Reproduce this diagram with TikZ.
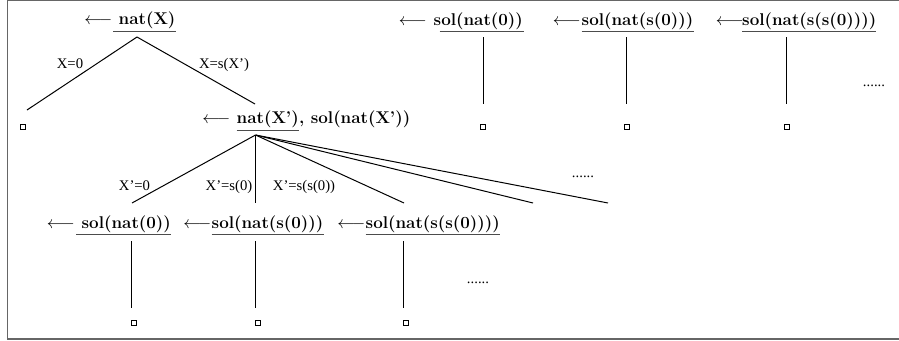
\documentclass[tikz,border=0pt]{standalone}
\usepackage{fontspec}
\newfontfamily\labfont{Liberation Serif}
\begin{document}
\begin{tikzpicture}[x=1pt,y=-1pt,
  term/.style={font=\bfseries\fontsize{17}{20}\selectfont, inner sep=0pt, text height=12pt, text depth=6.5pt, anchor=base west},
  arr/.style={font=\fontsize{16.5}{20}\selectfont, inner sep=0pt, anchor=base east},
  lab/.style={font=\labfont\fontsize{14.7}{17}\selectfont, inner sep=0pt, anchor=base},
  ul/.style={line width=1.3pt, draw=black!70},
  branch/.style={line width=1pt},
  sq/.style={draw, line width=0.9pt, minimum size=5.5pt, inner sep=0pt},
  frame/.style={draw=black!60, line width=1.2pt}]
\useasboundingbox (0,0) rectangle (899,340);
\draw[frame] (900,0.6) -- (7.5,0.6) -- (7.5,339) -- (900,339);

% top-left tree
\node[term] (tA) at (118.5,24.5) {nat(X)};
\node[arr] (aA) at (112.5,24.5) {$\longleftarrow$};
\draw[ul] ([xshift=-5.5pt]tA.south west) -- (tA.south east);
\coordinate (pA) at (137,37);
\coordinate (lA) at (27,110);
\coordinate (rA) at (255,104);
\draw[branch] (pA) -- (lA);
\draw[branch] (pA) -- (rA);
\node[sq] (bA) at (22.7,127) {};
\node[lab] (xA1) at (70,68) {X=0};
\node[lab] (xA2) at (224,68) {X=s(X’)};

% second goal
\node[arr] (aB) at (230.5,123.5) {$\longleftarrow$};
\node[term] (tB) at (236.5,123.5) {nat(X’)};
\node[term] (tB2) at (tB.base east) {, sol(nat(X’))};
\draw[ul] (tB.south west) -- (tB.south east);

% fan
\coordinate (pB) at (255.5,135);
\coordinate (f1) at (132,203);
\coordinate (f2) at (255.5,203);
\coordinate (f3) at (404,203);
\coordinate (f4) at (533,203);
\coordinate (f5) at (608,203);
\foreach \f in {f1,f2,f3,f4,f5} \draw[branch] (pB) -- (\f);
\node[lab] (xB1) at (134.5,190.5) {X’=0};
\node[lab] (xB2) at (229,190.5) {X’=s(0)};
\node[lab] (xB3) at (304,190.5) {X’=s(s(0))};
\node[lab] (dB) at (583,177) {......};

% bottom row
\node[arr] (aC1) at (75,228) {$\longleftarrow$};
\node[term] (tC1) at (81.5,228) {sol(nat(0))};
\draw[ul] ([xshift=-5.5pt]tC1.south west) -- (tC1.south east);
\node[arr] (aC2) at (211.5,228) {$\longleftarrow$};
\node[term] (tC2) at (211.5,228) {sol(nat(s(0)))};
\draw[ul] (tC2.south west) -- (tC2.south east);
\node[arr] (aC3) at (365.5,228) {$\longleftarrow$};
\node[term] (tC3) at (365.5,228) {sol(nat(s(s(0))))};
\draw[ul] (tC3.south west) -- (tC3.south east);
\coordinate (vC1a) at (131.5,241); \coordinate (vC1b) at (131.5,308);
\coordinate (vC2a) at (255.5,241); \coordinate (vC2b) at (255.5,308);
\coordinate (vC3a) at (403.5,241); \coordinate (vC3b) at (403.5,308);
\draw[branch] (vC1a) -- (vC1b);
\draw[branch] (vC2a) -- (vC2b);
\draw[branch] (vC3a) -- (vC3b);
\node[sq] (bC1) at (134,323) {};
\node[sq] (bC2) at (258,323) {};
\node[sq] (bC3) at (406,323) {};
\node[lab] (dC) at (478,283) {......};

% top-right row
\node[arr] (aR1) at (427,25) {$\longleftarrow$};
\node[term] (tR1) at (433.5,25) {sol(nat(0))};
\draw[ul] ([xshift=6pt]tR1.south west) -- ([xshift=1pt]tR1.south east);
\node[arr] (aR2) at (581,25) {$\longleftarrow$};
\node[term] (tR2) at (581.5,25) {sol(nat(s(0)))};
\draw[ul] (tR2.south west) -- (tR2.south east);
\node[arr] (aR3) at (744,25) {$\longleftarrow$};
\node[term] (tR3) at (742,25) {sol(nat(s(s(0))))};
\draw[ul] (tR3.south west) -- (tR3.south east);
\coordinate (vR1a) at (483.5,37); \coordinate (vR1b) at (483.5,104);
\coordinate (vR2a) at (626.5,37); \coordinate (vR2b) at (626.5,104);
\coordinate (vR3a) at (786.5,37); \coordinate (vR3b) at (786.5,104);
\draw[branch] (vR1a) -- (vR1b);
\draw[branch] (vR2a) -- (vR2b);
\draw[branch] (vR3a) -- (vR3b);
\node[sq] (bR1) at (483,127) {};
\node[sq] (bR2) at (627,127) {};
\node[sq] (bR3) at (787,127) {};
\node[lab] (dR) at (874,86) {......};
\end{tikzpicture}
\end{document}
